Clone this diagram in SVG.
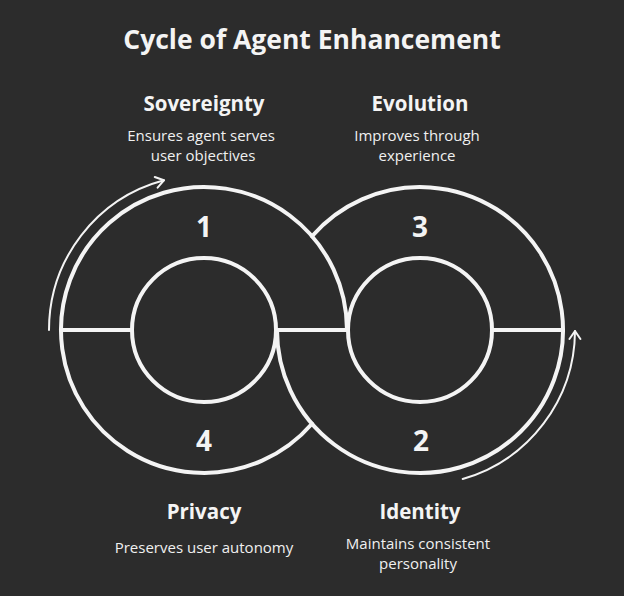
<svg xmlns="http://www.w3.org/2000/svg" width="624" height="596" viewBox="0 0 624 596">
  <defs>
    <style>
      .ring { fill: none; stroke: #f4f4f4; stroke-width: 4; stroke-linecap: round; }
      .arrow { fill: none; stroke: #f4f4f4; stroke-width: 2; stroke-linecap: round; }
      .title { font-family: "Open Sans", "Liberation Sans", sans-serif; font-weight: 700; font-size: 26.5px; fill: #f4f4f4; text-anchor: middle; }
      .head { font-family: "Open Sans", "Liberation Sans", sans-serif; font-weight: 700; font-size: 20.5px; fill: #f4f4f4; text-anchor: middle; }
      .body { font-family: "Open Sans", "Liberation Sans", sans-serif; font-weight: 400; font-size: 15px; fill: #f0f0f0; text-anchor: middle; }
      .num { font-family: "Open Sans", "Liberation Sans", sans-serif; font-weight: 700; font-size: 28px; fill: #f4f4f4; text-anchor: middle; }
    </style>
    <marker id="ah" markerUnits="userSpaceOnUse" markerWidth="14" markerHeight="14" viewBox="0 0 14 14" refX="10" refY="7" orient="auto">
      <path d="M2,1.5 L10,7 L2,12.5" fill="none" stroke="#f4f4f4" stroke-width="2" stroke-linecap="round" stroke-linejoin="round"/>
    </marker>
  </defs>
  <rect width="624" height="596" fill="#2c2c2c"/>

  <text class="title" x="312" y="49">Cycle of Agent Enhancement</text>

  <g id="rings">
    <path class="ring" d="M347 330 A143 143 0 1 0 312 423.7"/>
    <path class="ring" d="M312 236.3 A143 143 0 1 1 277 330"/>
    <circle class="ring" cx="204" cy="330" r="72"/>
    <circle class="ring" cx="420" cy="330" r="72"/>
  </g>

  <g id="connectors">
    <path class="ring" d="M61 330 H132"/>
    <path class="ring" d="M276 330 H348"/>
    <path class="ring" d="M492 330 H563"/>
    <path class="arrow" d="M49 330 A155 155 0 0 1 163.9 180.3" marker-end="url(#ah)"/>
    <path class="arrow" d="M462.7 479 A155 155 0 0 0 575 331" marker-end="url(#ah)"/>
  </g>

  <g id="node-sovereignty">
    <text class="num" x="204" y="237">1</text>
    <text class="head" x="204" y="111">Sovereignty</text>
    <text class="body" x="201" y="141">Ensures agent serves</text>
    <text class="body" x="203" y="161">user objectives</text>
  </g>

  <g id="node-evolution">
    <text class="num" x="420" y="237">3</text>
    <text class="head" x="420" y="111">Evolution</text>
    <text class="body" x="417" y="141">Improves through</text>
    <text class="body" x="417" y="161">experience</text>
  </g>

  <g id="node-privacy">
    <text class="num" x="204" y="451">4</text>
    <text class="head" x="204" y="519">Privacy</text>
    <text class="body" x="204" y="553">Preserves user autonomy</text>
  </g>

  <g id="node-identity">
    <text class="num" x="421" y="451">2</text>
    <text class="head" x="420" y="519">Identity</text>
    <text class="body" x="418" y="549">Maintains consistent</text>
    <text class="body" x="418" y="569">personality</text>
  </g>
</svg>
